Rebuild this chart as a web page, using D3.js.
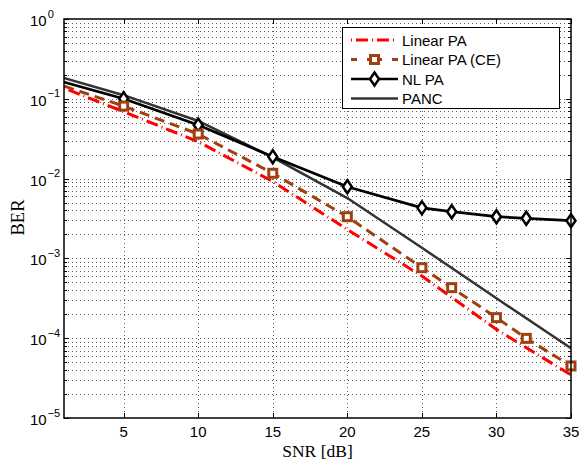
<!DOCTYPE html>
<html lang="en">
<head>
  <meta charset="UTF-8">
  <title>BER vs SNR</title>
  <style>
    body { margin: 0; background: #fff; }
    text { font-family: "Liberation Sans", Arial, sans-serif; }
    .serif { font-family: "Liberation Serif", "Times New Roman", serif; }
  </style>
</head>
<body>
  <svg id="chart" width="579" height="461"></svg>

  <script src="https://d3js.org/d3.v7.min.js"></script>

  <script>
    // data (x = 0 points sit just left of the axis, clipped)
    var snrLin = [0, 1, 5, 10, 15, 20, 25, 30, 35];
    var berLin = [0.162, 0.136, 0.069, 0.029, 0.0092, 0.0023, 0.0006, 0.000129, 0.0000346];

    var snrMk = [0, 5, 10, 15, 20, 25, 27, 30, 32, 35];
    var berCE = [0.167, 0.081, 0.0362, 0.01165, 0.00333, 0.000765, 0.00043, 0.000181, 0.0000995, 0.0000449];
    var berNL = [0.183, 0.1, 0.047, 0.0188, 0.0079, 0.0043, 0.00385, 0.00333, 0.00318, 0.00297];

    var snrPanc = [0, 5, 10, 15, 20, 25, 30, 35];
    var berPanc = [0.206, 0.111, 0.0527, 0.0185, 0.0057, 0.00136, 0.000316, 0.0000747];

    var xTicks = [5, 10, 15, 20, 25, 30, 35];
    var yDecades = [0, -1, -2, -3, -4, -5];
    var legendNames = ["Linear PA", "Linear PA (CE)", "NL PA", "PANC"];

    var svg = d3.select("#chart"),
      pl = 64, pr = 571, pt = 19, pb = 418;

    var x = d3.scaleLinear().domain([1, 35]).range([pl, pr]);
    var y = d3.scaleLog().domain([1e-5, 1]).range([pb, pt]);

    // grid
    var minor = [];
    yDecades.forEach(function(e) {
      if (e > -5) {
        for (var k = 1; k < 10; k++) minor.push(k * Math.pow(10, e - 1));
      }
    });
    var grid = svg.append("g")
      .attr("stroke", "#333")
      .attr("stroke-width", 0.8)
      .attr("stroke-dasharray", "1,3");
    grid.selectAll(".hg").data(minor.filter(function(v) { return v > 1e-5 && v < 1; }))
      .enter().append("line")
      .attr("x1", pl).attr("x2", pr)
      .attr("y1", function(d) { return Math.round(y(d)) + 0.5; })
      .attr("y2", function(d) { return Math.round(y(d)) + 0.5; });
    grid.selectAll(".vg").data(xTicks.filter(function(v) { return v < 35; }))
      .enter().append("line")
      .attr("y1", pt).attr("y2", pb)
      .attr("x1", function(d) { return Math.round(x(d)) + 0.5; })
      .attr("x2", function(d) { return Math.round(x(d)) + 0.5; });

    // ticks
    var ticks = svg.append("g").attr("stroke", "#000").attr("stroke-width", 1);
    minor.concat([1]).forEach(function(v) {
      var major = Math.abs(Math.log10(v) - Math.round(Math.log10(v))) < 1e-9;
      var len = major ? 5 : 3, yy = Math.round(y(v)) + 0.5;
      ticks.append("line").attr("x1", pl).attr("x2", pl + len).attr("y1", yy).attr("y2", yy);
      ticks.append("line").attr("x1", pr).attr("x2", pr - len).attr("y1", yy).attr("y2", yy);
    });
    xTicks.forEach(function(v) {
      var xx = Math.round(x(v)) + 0.5;
      ticks.append("line").attr("x1", xx).attr("x2", xx).attr("y1", pb).attr("y2", pb - 5);
      ticks.append("line").attr("x1", xx).attr("x2", xx).attr("y1", pt).attr("y2", pt + 5);
    });

    // tick labels
    svg.append("g").selectAll("text").data(xTicks).enter().append("text")
      .attr("x", function(d) { return x(d); })
      .attr("y", pb + 19)
      .attr("text-anchor", "middle")
      .attr("font-size", 15)
      .text(function(d) { return d; });

    var yl = svg.append("g").selectAll("text").data(yDecades).enter().append("text")
      .attr("x", 30)
      .attr("y", function(d) { return y(Math.pow(10, d)) + 7; })
      .attr("font-size", 15);
    yl.append("tspan").text("10");
    yl.append("tspan").attr("dy", -8.5).attr("dx", 1).attr("font-size", 11)
      .text(function(d) { return d === 0 ? "0" : "\u2212" + (-d); });

    // axis labels
    svg.append("text").attr("class", "serif")
      .attr("x", (pl + pr) / 2).attr("y", 457)
      .attr("text-anchor", "middle").attr("font-size", 17.5)
      .text("SNR [dB]");
    svg.append("text").attr("class", "serif")
      .attr("transform", "translate(24,217.5) rotate(-90)")
      .attr("text-anchor", "middle").attr("font-size", 18.5)
      .text("BER");

    // lines
    svg.append("clipPath").attr("id", "clip").append("rect")
      .attr("x", pl).attr("y", pt).attr("width", pr - pl).attr("height", pb - pt);

    var line = d3.line()
      .x(function(d) { return x(d[0]); })
      .y(function(d) { return y(d[1]); });

    var red = "#ff0000", brown = "#a04010", dark = "#333333";

    var plot = svg.append("g").attr("clip-path", "url(#clip)").attr("fill", "none");

    plot.append("path").datum(d3.zip(snrPanc, berPanc)).attr("d", line)
      .attr("stroke", dark).attr("stroke-width", 2.5);
    plot.append("path").datum(d3.zip(snrMk, berNL)).attr("d", line)
      .attr("stroke", "#000").attr("stroke-width", 2.7);
    plot.append("path").datum(d3.zip(snrMk, berCE)).attr("d", line)
      .attr("stroke", brown).attr("stroke-width", 3).attr("stroke-dasharray", "10,6");
    plot.append("path").datum(d3.zip(snrLin, berLin)).attr("d", line)
      .attr("stroke", red).attr("stroke-width", 3).attr("stroke-dasharray", "12,4,1,4");

    // markers
    function diamond(g, cx, cy) {
      g.append("path")
        .attr("d", "M" + cx + "," + (cy - 6.5) + "L" + (cx + 4.5) + "," + cy + "L" + cx + "," + (cy + 6.5) + "L" + (cx - 4.5) + "," + cy + "Z")
        .attr("fill", "#fff").attr("stroke", "#000").attr("stroke-width", 2.5);
    }
    function square(g, cx, cy) {
      g.append("rect").attr("x", cx - 4).attr("y", cy - 4).attr("width", 8).attr("height", 8)
        .attr("fill", "#fff").attr("stroke", brown).attr("stroke-width", 3);
    }
    var mk = svg.append("g");
    d3.zip(snrMk, berNL).filter(function(d) { return d[0] >= 1; }).forEach(function(d) {
      diamond(mk, x(d[0]), y(d[1]));
    });
    d3.zip(snrMk, berCE).filter(function(d) { return d[0] >= 1; }).forEach(function(d) {
      square(mk, x(d[0]), y(d[1]));
    });

    // axes box
    svg.append("rect").attr("x", pl).attr("y", pt)
      .attr("width", pr - pl).attr("height", pb - pt)
      .attr("fill", "none").attr("stroke", "#000").attr("stroke-width", 1.5);

    // legend
    var lg = svg.append("g");
    lg.append("rect").attr("x", 342.5).attr("y", 27.5).attr("width", 217).attr("height", 81)
      .attr("fill", "#fff").attr("stroke", "#000").attr("stroke-width", 1);
    var rowY = [40, 59.5, 79, 98.5];
    var lx1 = 351, lx2 = 398;
    lg.append("line").attr("x1", lx1).attr("x2", lx2).attr("y1", rowY[0]).attr("y2", rowY[0])
      .attr("stroke", red).attr("stroke-width", 3).attr("stroke-dasharray", "1,4,12,4");
    lg.append("line").attr("x1", lx1).attr("x2", lx2).attr("y1", rowY[1]).attr("y2", rowY[1])
      .attr("stroke", brown).attr("stroke-width", 3).attr("stroke-dasharray", "6,10,15,10,6");
    square(lg, (lx1 + lx2) / 2, rowY[1]);
    lg.append("line").attr("x1", lx1).attr("x2", lx2).attr("y1", rowY[2]).attr("y2", rowY[2])
      .attr("stroke", "#000").attr("stroke-width", 2.7);
    diamond(lg, (lx1 + lx2) / 2, rowY[2]);
    lg.append("line").attr("x1", lx1).attr("x2", lx2).attr("y1", rowY[3]).attr("y2", rowY[3])
      .attr("stroke", dark).attr("stroke-width", 2.5);
    lg.selectAll(".lt").data(legendNames).enter().append("text")
      .attr("x", 402).attr("y", function(d, i) { return rowY[i] + 5.5; })
      .attr("font-size", 15)
      .text(function(d) { return d; });
  </script>
</body>
</html>
